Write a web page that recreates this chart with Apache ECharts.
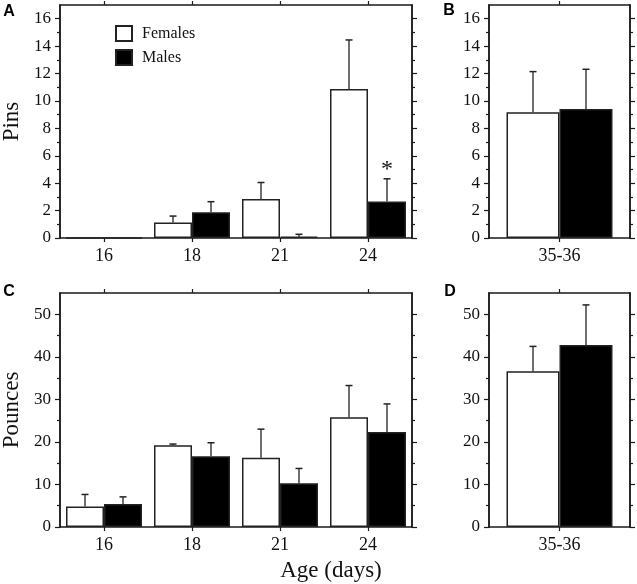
<!DOCTYPE html>
<html><head><meta charset="utf-8">
<script src="https://cdn.jsdelivr.net/npm/echarts@6/dist/echarts.min.js"></script>
<style>html,body{margin:0;padding:0;background:#fff}#c{width:637px;height:584px}</style>
</head><body><div id="c"></div>
<script>
// ---- data ----
const ageCategories = ['16', '18', '21', '24'];
const adultCategories = ['35-36'];

const pinsFemales = [0, 1.13, 2.84, 10.88];
const pinsFemalesSem = [0, 0.47, 1.21, 3.57];
const pinsMales = [0, 1.87, 0.1, 2.67];
const pinsMalesSem = [0, 0.78, 0.17, 1.65];
const pinsMalesSig = ['', '', '', '*'];

const adultPinsFemales = [9.18];
const adultPinsFemalesSem = [2.96];
const adultPinsMales = [9.42];
const adultPinsMalesSem = [2.89];

const pouncesFemales = [4.8, 19.2, 16.3, 25.8];
const pouncesFemalesSem = [2.85, 0.3, 6.7, 7.45];
const pouncesMales = [5.42, 16.6, 10.3, 22.33];
const pouncesMalesSem = [1.66, 3.2, 3.46, 6.6];

const adultPouncesFemales = [36.6];
const adultPouncesFemalesSem = [5.85];
const adultPouncesMales = [42.77];
const adultPouncesMalesSem = [9.43];

const pinsTicks = [0, 2, 4, 6, 8, 10, 12, 14, 16];
const pinsMinorTicks = [1, 3, 5, 7, 9, 11, 13, 15];
const pinsMax = 17;
const pouncesTicks = [0, 10, 20, 30, 40, 50];
const pouncesMinorTicks = [5, 15, 25, 35, 45];
const pouncesMax = 55;

// ---- styles ----
const INK = '#1a1a1a';
const SERIF = 'Liberation Serif';
const grids = [
  {left: 60, top: 5, width: 352, height: 233, outerBoundsMode: 'none', containLabel: false},
  {left: 489, top: 5, width: 141, height: 233, outerBoundsMode: 'none', containLabel: false},
  {left: 60, top: 293, width: 352, height: 234, outerBoundsMode: 'none', containLabel: false},
  {left: 489, top: 293, width: 141, height: 234, outerBoundsMode: 'none', containLabel: false}
];
const barW = [38, 53, 38, 53];

function xAxes(g, cats) {
  return [
    {type: 'category', gridIndex: g, position: 'bottom', data: cats,
     axisLine: {show: true, onZero: false, lineStyle: {color: INK, width: 1.5}},
     axisTick: {show: true, alignWithLabel: true, length: 4, lineStyle: {color: INK, width: 1.2}},
     axisLabel: {color: '#111', fontFamily: SERIF, fontSize: 18, margin: 9},
     splitLine: {show: false}},
    {type: 'category', gridIndex: g, position: 'top', data: cats,
     axisLine: {show: true, onZero: false, lineStyle: {color: INK, width: 1.5}},
     axisTick: {show: true, alignWithLabel: true, length: 4, lineStyle: {color: INK, width: 1.2}},
     axisLabel: {show: false}, splitLine: {show: false}}
  ];
}
function yAx(g, pos, max, ticks, len, labels, name) {
  return {type: 'value', gridIndex: g, position: pos, min: 0, max: max,
    axisLine: {show: true, onZero: false, lineStyle: {color: INK, width: 1.5}},
    axisTick: {show: true, customValues: ticks, length: len, lineStyle: {color: INK, width: 1.2}},
    axisLabel: {show: labels, customValues: ticks, margin: 9, color: '#111', fontFamily: SERIF, fontSize: 17},
    splitLine: {show: false},
    name: name || '', nameLocation: 'middle', nameGap: 37,
    nameTextStyle: {fontFamily: SERIF, fontSize: 23, color: '#111'}};
}
function yAxes(g, max, ticks, minor, name) {
  return [
    yAx(g, 'left', max, ticks, 5, true, name),
    yAx(g, 'left', max, minor, 3, false),
    yAx(g, 'right', max, ticks, 5, false),
    yAx(g, 'right', max, minor, 3, false)
  ];
}

const xAxis = [].concat(xAxes(0, ageCategories), xAxes(1, adultCategories), xAxes(2, ageCategories), xAxes(3, adultCategories));
const yAxis = [].concat(
  yAxes(0, pinsMax, pinsTicks, pinsMinorTicks, 'Pins'),
  yAxes(1, pinsMax, pinsTicks, pinsMinorTicks),
  yAxes(2, pouncesMax, pouncesTicks, pouncesMinorTicks, 'Pounces'),
  yAxes(3, pouncesMax, pouncesTicks, pouncesMinorTicks)
);

function bar(name, g, data, fill) {
  return {type: 'bar', name: name, xAxisIndex: g * 2, yAxisIndex: g * 4, data: data,
    barWidth: barW[g], barGap: '0%',
    itemStyle: {color: fill, borderColor: '#222', borderWidth: 1.5}, emphasis: {disabled: true}};
}
function err(name, g, means, sems, side, sig) {
  const data = means.map((m, i) => [i, m, m + sems[i], sig ? sig[i] : '']);
  return {type: 'custom', name: name, xAxisIndex: g * 2, yAxisIndex: g * 4, z: 5,
    data: data, silent: true,
    renderItem: function (params, api) {
      const i = api.value(0), m = api.value(1), e = api.value(2);
      const s = data[params.dataIndex][3];
      const p0 = api.coord([i, m]), p1 = api.coord([i, e]);
      const x = p0[0] + side * barW[g] / 2;
      const children = [];
      if (e > m) {
        children.push({type: 'line', shape: {x1: x, y1: p0[1], x2: x, y2: p1[1]}, style: {stroke: '#222', lineWidth: 1.3}});
        children.push({type: 'line', shape: {x1: x - 3.5, y1: p1[1], x2: x + 3.5, y2: p1[1]}, style: {stroke: '#222', lineWidth: 1.5}});
      }
      if (s) {
        children.push({type: 'text', x: x, y: p1[1] + 3, style: {text: s, fontFamily: SERIF, fontSize: 24, fill: '#111', align: 'center', verticalAlign: 'bottom'}});
      }
      return {type: 'group', children: children};
    }};
}

const series = [
  bar('Females', 0, pinsFemales, '#fff'), bar('Males', 0, pinsMales, '#000'),
  bar('Females', 1, adultPinsFemales, '#fff'), bar('Males', 1, adultPinsMales, '#000'),
  bar('Females', 2, pouncesFemales, '#fff'), bar('Males', 2, pouncesMales, '#000'),
  bar('Females', 3, adultPouncesFemales, '#fff'), bar('Males', 3, adultPouncesMales, '#000'),
  err('eF0', 0, pinsFemales, pinsFemalesSem, -1), err('eM0', 0, pinsMales, pinsMalesSem, 1, pinsMalesSig),
  err('eF1', 1, adultPinsFemales, adultPinsFemalesSem, -1), err('eM1', 1, adultPinsMales, adultPinsMalesSem, 1),
  err('eF2', 2, pouncesFemales, pouncesFemalesSem, -1), err('eM2', 2, pouncesMales, pouncesMalesSem, 1),
  err('eF3', 3, adultPouncesFemales, adultPouncesFemalesSem, -1), err('eM3', 3, adultPouncesMales, adultPouncesMalesSem, 1)
];

function letter(t, x, y) {
  return {type: 'text', x: x, y: y, style: {text: t, font: 'bold 16px "Liberation Sans"', fill: '#000', align: 'center', verticalAlign: 'middle'}};
}

const chart = echarts.init(document.getElementById('c'), null, {renderer: 'canvas'});
chart.setOption({
  animation: false,
  backgroundColor: '#fff',
  grid: grids,
  xAxis: xAxis,
  yAxis: yAxis,
  legend: {data: ['Females', 'Males'], orient: 'vertical', left: 115, top: 25, padding: 0, itemGap: 7,
    itemWidth: 16, itemHeight: 15, icon: 'rect', selectedMode: false,
    textStyle: {fontFamily: SERIF, fontSize: 16, color: '#111', padding: [0, 0, 0, 5]}},
  graphic: [
    letter('A', 9, 12), letter('B', 449, 11), letter('C', 9, 292), letter('D', 450, 292),
    {type: 'text', x: 331, y: 571, style: {text: 'Age (days)', fontFamily: SERIF, fontSize: 23, fill: '#111', align: 'center', verticalAlign: 'middle'}}
  ],
  series: series
});
</script>
</body></html>
